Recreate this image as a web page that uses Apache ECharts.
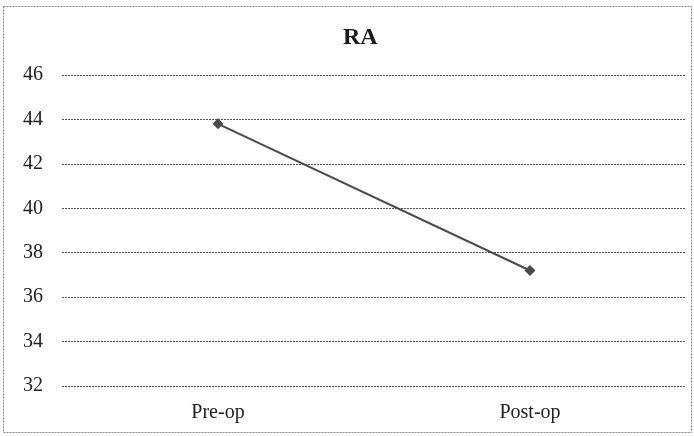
<!DOCTYPE html>
<html>
<head>
<meta charset="utf-8">
<script src="https://cdn.jsdelivr.net/npm/echarts@6/dist/echarts.min.js"></script>
<style>
  html, body { margin: 0; padding: 0; background: #ffffff; }
  #chart { width: 694px; height: 436px; }
</style>
</head>
<body>
<div id="chart"></div>
<script>
// Chart data
const categories = ['Pre-op', 'Post-op'];
const raValues = [43.8, 37.2];
const yTicks = { min: 32, max: 46, step: 2 };

const chart = echarts.init(document.getElementById('chart'), null, { renderer: 'canvas' });

const serif = '"Liberation Serif", "DejaVu Serif", serif';

chart.setOption({
  backgroundColor: '#ffffff',
  animation: false,
  title: {
    text: 'RA',
    left: 338,
    top: 21,
    textStyle: { fontFamily: serif, fontWeight: 'bold', fontSize: 24, color: '#1a1a1a' }
  },
  graphic: [{
    type: 'rect',
    shape: { x: 3.5, y: 6.5, width: 688, height: 426 },
    style: { fill: 'none', stroke: '#888', lineWidth: 1, lineDash: [2, 1] },
    silent: true
  }],
  grid: { left: 62, right: 8, top: 75, bottom: 50, containLabel: false },
  xAxis: {
    type: 'category',
    data: categories,
    boundaryGap: true,
    axisLine: { show: false },
    axisTick: { show: false },
    axisLabel: { fontFamily: serif, fontSize: 20, color: '#222', margin: 17 }
  },
  yAxis: {
    type: 'value',
    min: yTicks.min,
    max: yTicks.max,
    interval: yTicks.step,
    axisLine: { show: false },
    axisTick: { show: false },
    axisLabel: { fontFamily: serif, fontSize: 20, color: '#222', margin: 19, align: 'right' },
    splitLine: { show: true, lineStyle: { color: '#555', width: 1, type: [2, 1] } }
  },
  series: [{
    type: 'line',
    data: raValues,
    symbol: 'diamond',
    symbolSize: 11,
    lineStyle: { color: '#4a4a4a', width: 2 },
    itemStyle: { color: '#4a4a4a' }
  }]
});
</script>
</body>
</html>
